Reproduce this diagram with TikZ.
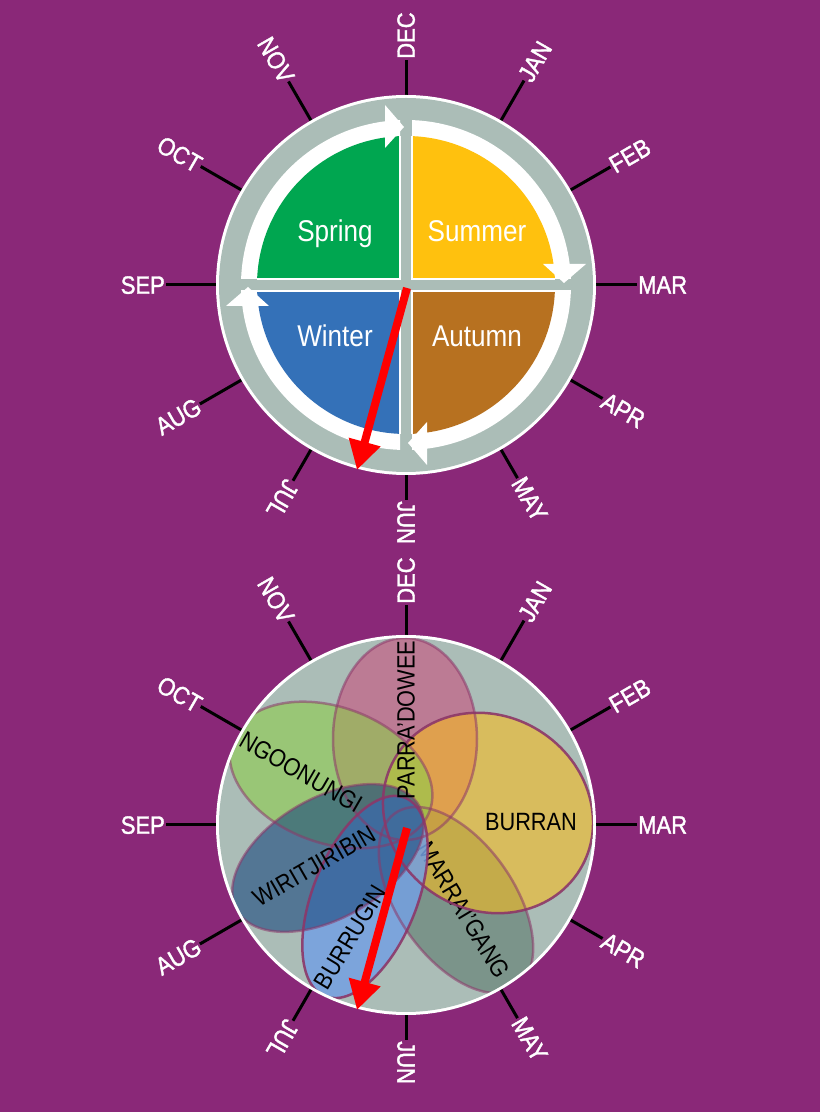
\documentclass[tikz,border=0pt]{standalone}
\usepackage{fontspec}
\setmainfont{Liberation Sans}[FakeStretch=0.87]
\newfontfamily\monthfont{Liberation Sans}[FakeStretch=0.88, FakeBold=1.5]
\usetikzlibrary{arrows.meta,calc}
\definecolor{bgpurple}{RGB}{138,40,120}
\definecolor{ringgray}{RGB}{171,189,183}
\definecolor{springC}{RGB}{0,166,80}
\definecolor{summerC}{RGB}{255,193,14}
\definecolor{winterC}{RGB}{52,113,184}
\definecolor{autumnC}{RGB}{183,113,32}
\definecolor{pinkE}{RGB}{200,80,125}
\definecolor{marraiE}{RGB}{92,122,108}
\definecolor{burranE}{RGB}{249,188,28}
\definecolor{ngooE}{RGB}{142,205,75}
\definecolor{burruginE}{RGB}{116,160,226}
\definecolor{wiritE}{RGB}{25,72,125}
\definecolor{edgeE}{RGB}{140,55,105}
\begin{document}
\begin{tikzpicture}[x=1pt,y=1pt,
  month/.style={text=white, font=\monthfont\fontsize{25}{25}\selectfont, inner sep=1pt, text depth=0pt},
  tickline/.style={black, line width=3pt},
  season/.style={text=white, font=\fontsize{30}{30}\selectfont, inner sep=0pt, anchor=base},
  elabel/.style={text=black, font=\fontsize{25}{25}\selectfont, inner sep=0pt, text depth=0pt},
  redarrow/.style={red, line width=8pt, -{Triangle[width=31pt,length=29pt]}},
  eoutline/.style={draw=edgeE, line width=2.5pt, draw opacity=0.55},
  eoutlinestrong/.style={draw=edgeE, line width=2.5pt, draw opacity=0.9}
]
\useasboundingbox (0,0) rectangle (820,1112);
\fill[bgpurple] (0,0) rectangle (820,1112);

\coordinate (C1) at (406,827);
\coordinate (C2) at (406,287);

% ---------- month ticks and labels ----------
\foreach \cc/\pre/\decr in {C1/t/225,C2/b/220}{
  \foreach \ang/\lab/\rr in {90/DEC/\decr,60/JAN/236,30/FEB/236,0/MAR/231,-30/APR/227,-60/MAY/223,-90/JUN/215,-120/JUL/226}{
    \coordinate (\pre in\lab) at ($(\cc)+(\ang:185)$);
    \node[month, anchor=west, rotate=\ang] (\pre\lab) at ($(\cc)+(\ang:\rr)$) {\lab};
    \draw[tickline] (\pre in\lab) -- (\pre\lab.west);
  }
  \foreach \ang/\lab/\rr in {120/NOV/235,150/OCT/237,180/SEP/240,210/AUG/238}{
    \coordinate (\pre in\lab) at ($(\cc)+(\ang:185)$);
    \node[month, anchor=east, rotate=\ang-180] (\pre\lab) at ($(\cc)+(\ang:\rr)$) {\lab};
    \draw[tickline] (\pre in\lab) -- (\pre\lab.east);
  }
}

% ---------- top wheel ----------
\fill[white] (C1) circle (190);
\fill[ringgray] (C1) circle (187);
% white bands (clipped per quadrant)
\foreach \xa/\ya/\xb/\yb in {400/833/200/1027, 412/833/612/1027, 400/821/200/627, 412/821/612/627}{
  \begin{scope}
    \clip (\xa,\ya) rectangle (\xb,\yb);
    \fill[white] (C1) circle (165);
  \end{scope}
}
% quadrants
\foreach \xa/\ya/\xb/\yb/\col in {400/833/200/1027/springC, 412/833/612/1027/summerC, 400/821/200/627/winterC, 412/821/612/627/autumnC}{
  \begin{scope}
    \clip (C1) circle (149);
    \filldraw[fill=\col, draw=white, line width=1.5pt] (\xa,\ya) rectangle (\xb,\yb);
  \end{scope}
}
% arrow heads of the cycle
\begin{scope}[shift={(406,827)}]
  \foreach \r in {0,-90,-180,-270}{
    \fill[white, rotate=\r] (-21,180) -- (-21,137) -- (-2,158) -- cycle;
  }
\end{scope}
% season names
\node[season] (spring) at (335,870) {Spring};
\node[season] (summer) at (477,870) {Summer};
\node[season] (winter) at (335,765) {Winter};
\node[season] (autumn) at (477,765) {Autumn};
% red pointer
\coordinate (r1s) at (407,824);
\coordinate (r1e) at (357,642);
\draw[redarrow] (r1s) -- (r1e);

% ---------- bottom wheel ----------
\fill[white] (C2) circle (190);
\fill[ringgray] (C2) circle (187);
\begin{scope}
  \clip (C2) circle (187);
  \fill[pinkE, fill opacity=0.6, shift={(405,373)}] (0,0) ellipse (72 and 101);
  \fill[marraiE, fill opacity=0.6, shift={(456,212)}, rotate=-55] (0,0) ellipse (106 and 58);
  \fill[burranE, fill opacity=0.58, shift={(488,299)}, rotate=-32] (0,0) ellipse (108 and 97);
  \fill[ngooE, fill opacity=0.6, shift={(331,337)}, rotate=-20] (0,0) ellipse (105 and 68);
  \node[elabel, rotate=-59] (marrai) at (464,202) {MARRAI'GANG};
  \fill[burruginE, fill opacity=0.85, shift={(365,215)}, rotate=68] (0,0) ellipse (107 and 52);
  \fill[wiritE, fill opacity=0.6, shift={(328,254)}, rotate=30] (0,0) ellipse (105 and 60);
  % outlines
  \path[eoutline, shift={(405,373)}] (0,0) ellipse (72 and 101);
  \path[eoutline, shift={(456,212)}, rotate=-55] (0,0) ellipse (106 and 58);
  \path[eoutline, shift={(331,337)}, rotate=-20] (0,0) ellipse (105 and 68);
  \path[eoutline, shift={(328,254)}, rotate=30] (0,0) ellipse (105 and 60);
  \path[eoutlinestrong, shift={(488,299)}, rotate=-32] (0,0) ellipse (108 and 97);
  \path[eoutlinestrong, shift={(365,215)}, rotate=68] (0,0) ellipse (107 and 52);
\end{scope}
\node[elabel, rotate=90] (parra) at (406,392) {PARRA'DOWEE};
\node[elabel, rotate=-30] (ngoo) at (301,340) {NGOONUNGI};
\node[elabel] (burran) at (531,290) {BURRAN};
\node[elabel, rotate=30] (wirit) at (314,246) {WIRITJIRIBIN};
\node[elabel, rotate=59] (burrugin) at (350,175) {BURRUGIN};
\coordinate (r2s) at (407,284);
\coordinate (r2e) at (357,102);
\draw[redarrow] (r2s) -- (r2e);
\end{tikzpicture}
\end{document}
